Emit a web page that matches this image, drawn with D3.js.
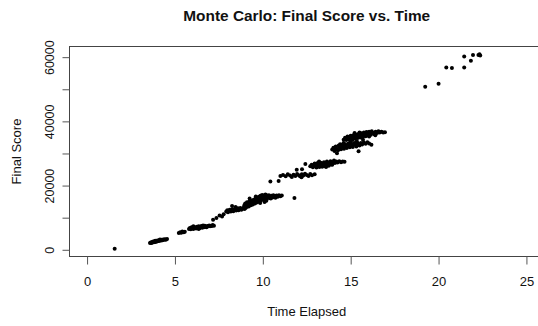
<!DOCTYPE html>
<html>
<head>
<meta charset="utf-8">
<script src="https://cdn.jsdelivr.net/npm/d3@7/dist/d3.min.js"></script>
<style>
  html, body { margin: 0; padding: 0; background: #fff; }
  svg { display: block; }
  text { font-family: "Liberation Sans", Arial, sans-serif; fill: #111; }
</style>
</head>
<body>
<svg id="chart" width="538" height="326"></svg>
<script>
// Simulated runs: [time elapsed, final score], grouped by the band they fall in
const runsShort = [[1.57, 330]];
const runsBand1 = [
  [3.58,2150],[3.62,2300],[3.66,2100],[3.70,2450],[3.72,2250],[3.76,2550],[3.80,2350],
  [3.83,2600],[3.86,2450],[3.88,2850],[3.90,2700],[3.93,2500],[3.96,2800],[4.00,2650],
  [4.03,2900],[4.06,2750],[4.10,3000],[4.13,2800],[4.15,3200],[4.17,3050],[4.21,2900],
  [4.25,3150],[4.29,3000],[4.33,3200],[4.38,3100],[4.43,3300],[4.48,3150],[4.55,3350]
];
const runsBand2 = [[5.22,5250],[5.30,5500],[5.36,5300],[5.42,5700],[5.50,5450],[5.56,5600]];
const runsBand3 = [
  [5.80,6500],[5.85,6800],[5.90,6400],[5.95,7000],[6.00,6700],[6.05,6500],[6.05,7300],
  [6.10,7100],[6.15,6800],[6.20,6600],[6.25,7200],[6.30,6900],[6.35,7300],[6.35,6500],
  [6.40,6700],[6.45,7100],[6.50,7400],[6.55,6900],[6.60,7200],[6.60,7600],[6.65,7000],
  [6.70,7500],[6.75,7200],[6.80,7000],[6.85,7400],[6.90,7300],[6.95,7600],[7.00,7300],
  [7.05,7500],[7.10,7400],[7.15,7700],[7.22,7500]
];
const runsGap1 = [[7.17,9340],[7.36,9870],[7.54,10680],[7.68,10370],[7.77,11100]];
const runsBand4 = [
  [7.92,11900],[7.98,12300],[8.02,11700],[8.08,12100],[8.12,12500],[8.18,11900],[8.22,12300],
  [8.25,13600],[8.28,12600],[8.32,12000],[8.38,12400],[8.42,12700],[8.45,13300],[8.48,12200],
  [8.52,12500],[8.58,12900],[8.62,12300],[8.68,12700],[8.72,13000],[8.78,12500],[8.84,12800],
  [8.90,13100],[8.96,12700],[9.02,13000],[9.08,13300]
];
const runsBand5 = [
  [8.95,13900],[9.00,14400],[9.05,13600],[9.10,14800],[9.15,14100],[9.20,13500],[9.22,15000],
  [9.25,16000],[9.28,14500],[9.32,13900],[9.35,15300],[9.40,14700],[9.43,14100],[9.48,15600],
  [9.50,15000],[9.55,14400],[9.58,15900],[9.60,16600],[9.62,15300],[9.65,14700],[9.68,16200],
  [9.72,15600],[9.75,15000],[9.78,16500],[9.80,15800],[9.84,15200],[9.85,14600],[9.87,16800],
  [9.90,16100],[9.93,15500],[9.96,17100],[10.00,16400],[10.02,15700],[10.05,16900],[10.08,16100],
  [10.10,14900],[10.12,15500],[10.15,17200],[10.18,16500],[10.22,15800],[10.25,16900],
  [10.30,16300],[10.35,17000],[10.40,16500],[10.45,16000],[10.50,16800],[10.55,16300],
  [10.60,17000],[10.65,16600],[10.72,16200],[10.78,16900],[10.85,16500],[10.92,17000],
  [11.00,16700],[11.08,16900],[11.80,16100],[9.45,14900],[9.70,15400],[10.20,15300],
  [9.95,16700],[10.38,16100]
];
const runsGap2 = [[10.43,21260],[10.90,21400]];
const runsBand6 = [
  [11.00,23000],[11.15,23300],[11.30,22900],[11.42,23500],[11.55,23100],[11.65,22700],
  [11.75,23400],[11.85,23000],[11.95,23600],[12.05,23200],[12.12,22900],[12.20,22600],
  [12.22,23500],[12.30,23100],[12.40,23700],[12.50,23300],[12.60,23000],[12.70,23600],
  [12.80,23200],[12.95,23500],[11.93,24900],[12.23,25100],[12.42,26700]
];
const runsBand7 = [
  [12.70,26000],[12.78,26500],[12.85,25700],[12.90,26300],[12.95,26900],[13.00,26100],
  [13.05,25600],[13.08,26600],[13.12,27000],[13.18,26200],[13.20,27500],[13.22,25800],
  [13.25,26700],[13.30,27100],[13.35,26400],[13.38,25900],[13.42,26900],[13.48,27300],
  [13.52,26500],[13.55,26000],[13.60,27000],[13.60,25800],[13.65,27500],[13.70,26700],
  [13.75,26200],[13.80,27200],[13.85,27600],[13.90,26900],[13.95,26500],[14.00,27300],
  [14.05,27800],[14.10,27000],[14.18,27500],[14.25,27200],[14.35,27600],[14.45,27300],
  [14.55,27500],[14.65,27400],[14.22,30100],[14.10,31000],[13.40,26200],[13.88,26600]
];
const runsBand8 = [
  [13.95,31200],[14.02,31800],[14.08,30800],[14.15,32200],[14.20,31500],[14.28,31000],
  [14.32,32500],[14.38,31800],[14.45,31300],[14.50,32700],[14.55,32100],[14.62,31500],
  [14.68,32900],[14.72,32300],[14.78,31700],[14.85,33000],[14.90,32400],[14.95,31900],
  [15.02,33200],[15.08,32600],[15.12,32000],[15.20,33300],[15.25,32700],[15.32,32200],
  [15.40,33100],[15.45,30700],[15.50,32500],[15.58,33300],[15.65,32800],[15.75,33400],
  [15.85,33000],[15.95,33500],[16.05,33100],[16.18,32700],[14.60,33300],[15.00,33700],
  [15.35,33800],[14.40,32900]
];
const runsBand9 = [
  [14.60,34300],[14.68,34900],[14.75,34200],[14.82,35300],[14.88,34700],[14.95,34100],
  [15.00,35500],[15.05,34900],[15.10,34300],[15.15,35700],[15.20,35100],[15.22,36400],
  [15.25,34600],[15.30,35900],[15.35,35300],[15.40,34800],[15.45,36100],[15.50,35500],
  [15.55,35000],[15.60,36300],[15.65,35700],[15.70,35200],[15.70,34300],[15.75,36500],
  [15.80,35900],[15.85,35400],[15.90,36700],[15.95,36100],[16.00,35600],[16.05,36800],
  [16.10,36300],[16.15,35800],[16.20,36900],[16.28,36400],[16.35,36000],[16.42,36800],
  [16.50,36400],[16.58,36900],[16.65,36500],[16.75,36800],[16.85,36500],[16.95,36600],
  [15.10,35400],[15.50,36500],[16.05,35300],[16.40,35700]
];
const runsLong = [
  [19.24,50800],[20.00,51700],[20.44,56800],[20.76,56600],[21.46,56800],[21.46,60200],
  [21.84,58900],[21.96,60700],[22.27,60700],[22.37,60500],[22.33,60900]
];

const xLimits = [0, 25];
const xTicks = [0, 5, 10, 15, 20, 25];
const yTicks = [0, 10000, 20000, 30000, 40000, 50000, 60000];
const yTickLabels = ["0", "", "20000", "", "40000", "", "60000"];

const chartTitle = "Monte Carlo: Final Score vs. Time";
const xTitle = "Time Elapsed";
const yTitle = "Final Score";

const runs = [].concat(runsShort, runsBand1, runsBand2, runsBand3, runsGap1, runsBand4,
  runsBand5, runsGap2, runsBand6, runsBand7, runsBand8, runsBand9, runsLong);

// Plot region and 4% axis padding in the style of base R graphics
const box = { left: 69.5, top: 46.5, right: 544, bottom: 256.5 };
const pad = (lo, hi) => { const r = hi - lo; return [lo - 0.04 * r, hi + 0.04 * r]; };

const x = d3.scaleLinear().domain(pad(xLimits[0], xLimits[1])).range([box.left, box.right]);
const yExt = d3.extent(runs, d => d[1]);
const y = d3.scaleLinear().domain(pad(yExt[0], yExt[1])).range([box.bottom, box.top]);

const svg = d3.select("#chart");
const font = "'Liberation Sans', Arial, sans-serif";

// Points
svg.append("g")
  .selectAll("circle")
  .data(runs)
  .join("circle")
  .attr("cx", d => x(d[0]))
  .attr("cy", d => y(d[1]))
  .attr("r", 2)
  .attr("fill", "#000");

// Frame
svg.append("rect")
  .attr("x", box.left).attr("y", box.top)
  .attr("width", box.right - box.left).attr("height", box.bottom - box.top)
  .attr("fill", "none").attr("stroke", "#444").attr("stroke-width", 1);

// X axis
const gx = svg.append("g")
  .attr("transform", `translate(0,${box.bottom})`)
  .call(d3.axisBottom(x).tickValues(xTicks).tickSize(8).tickSizeOuter(0).tickFormat(d3.format("d")));
gx.select(".domain").remove();
gx.selectAll(".tick line").attr("stroke", "#555");
gx.selectAll(".tick text")
  .attr("y", 29).attr("dy", null)
  .style("font-size", "13px").style("font-family", font)
  .attr("fill", "#111");

// Y axis
const gy = svg.append("g")
  .attr("transform", `translate(${box.left},0)`)
  .call(d3.axisLeft(y).tickValues(yTicks).tickSize(7).tickSizeOuter(0)
    .tickFormat((d, i) => yTickLabels[i]));
gy.select(".domain").remove();
gy.selectAll(".tick line").attr("stroke", "#555");
gy.selectAll(".tick text")
  .attr("transform", "rotate(-90)")
  .attr("x", 0).attr("y", -16).attr("dy", null)
  .attr("text-anchor", "middle")
  .style("font-size", "12.5px").style("font-family", font)
  .attr("fill", "#111");

// Titles
const cx = (box.left + box.right) / 2;
svg.append("text")
  .attr("x", cx).attr("y", 20.5)
  .attr("text-anchor", "middle")
  .style("font-size", "15.4px").style("font-weight", "bold")
  .text(chartTitle);

svg.append("text")
  .attr("x", cx).attr("y", 316)
  .attr("text-anchor", "middle")
  .style("font-size", "13px")
  .text(xTitle);

svg.append("text")
  .attr("transform", `translate(21,${(box.top + box.bottom) / 2}) rotate(-90)`)
  .attr("text-anchor", "middle")
  .style("font-size", "13px")
  .text(yTitle);
</script>
</body>
</html>
